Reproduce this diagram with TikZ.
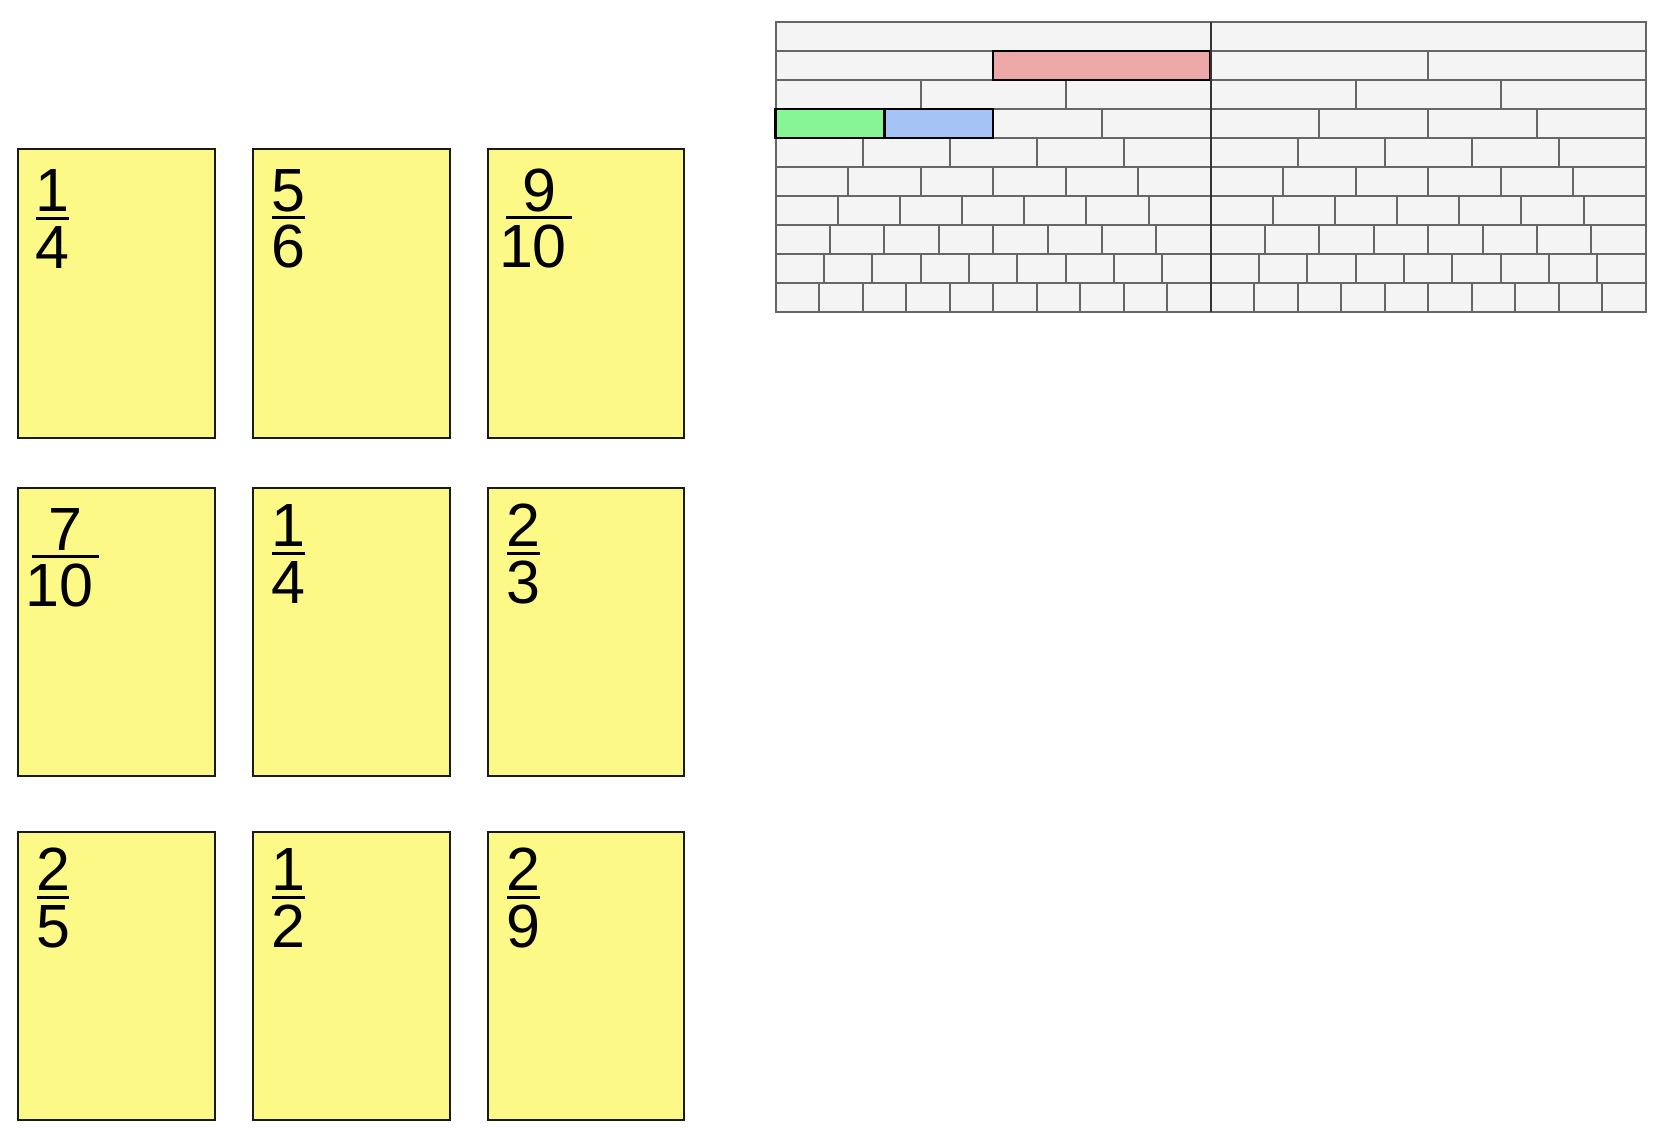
\documentclass[tikz,border=0pt]{standalone}
\usepackage{fontspec}
\setmainfont{Liberation Sans}
\usetikzlibrary{calc}
\definecolor{cardyellow}{HTML}{FDF986}
\definecolor{cardline}{HTML}{1A1A1A}
\definecolor{wallfill}{HTML}{F4F4F4}
\definecolor{wallline}{HTML}{666666}
\definecolor{midline}{HTML}{333333}
\definecolor{pred}{HTML}{EDA8A8}
\definecolor{pgreen}{HTML}{86F596}
\definecolor{pblue}{HTML}{A6C3F5}
\tikzset{
  card/.style={draw=cardline, fill=cardyellow, line width=2pt, minimum width=196.6pt, minimum height=288.3pt, inner sep=0pt, anchor=north west},
  fracdigit/.style={inner sep=0pt, font=\fontsize{61}{61}\selectfont},
  barline/.style={line width=3pt, draw=black},
  brick/.style={draw=wallline, fill=wallfill, line width=2pt},
  hibrick/.style={draw=black, line width=2.5pt},
  centreline/.style={draw=midline, line width=2pt}
}
% #1 name, #2 left, #3 top, #4 bar dx, #5 bar dy, #6 bar width, #7 num, #8 den, #9 den shift
\newcommand{\fraccard}[9]{%
  \node[card] (c#1) at (#2,#3) {};
  \coordinate (bl#1) at ($(c#1.north west)+(#4,#5)$);
  \coordinate (br#1) at ($(bl#1)+(#6,0)$);
  \draw[barline] (bl#1) -- (br#1);
  \node[fracdigit, anchor=base] (n#1) at ($(bl#1)!0.5!(br#1)+(0,-6.5)$) {#7};
  \node[fracdigit, anchor=base] (d#1) at ($(bl#1)!0.5!(br#1)+(#9,50)$) {#8};
}
\begin{document}
\begin{tikzpicture}[x=1pt,y=-1pt]
\useasboundingbox (0,0) rectangle (1664,1136);
% fraction wall
\def\wx{775.7}
\def\wy{22}
\def\ww{870}
\def\wh{28.95}
\foreach \r in {1,...,10}{
  \pgfmathtruncatemacro{\n}{2*\r}
  \foreach \k in {1,...,\n}{
    \pgfmathsetmacro{\xa}{\wx+\ww/\n*(\k-1)}
    \pgfmathsetmacro{\xb}{\wx+\ww/\n*\k}
    \pgfmathsetmacro{\ya}{\wy+(\r-1)*\wh}
    \pgfmathsetmacro{\yb}{\wy+\r*\wh}
    \draw[brick] (\xa,\ya) rectangle (\xb,\yb);
  }
}
% highlighted pieces
\draw[hibrick, fill=pred] (993.2,50.95) rectangle (1210.7,79.9);
\draw[hibrick, fill=pgreen] (775.7,108.85) rectangle (884.45,137.8);
\draw[hibrick, fill=pblue] (884.45,108.85) rectangle (993.2,137.8);
\draw[centreline] (1210.7,22) -- (1210.7,311.5);
% cards
\fraccard{1}{17.3}{148.3}{18.7}{69.7}{33.3}{1}{4}{0}
\fraccard{2}{252}{148.3}{20.4}{69.4}{33}{5}{6}{0}
\fraccard{3}{486.8}{148.3}{19.2}{69.4}{66}{9}{10}{-6}
\fraccard{4}{17.3}{486.8}{14.7}{70}{66.7}{7}{10}{-5.7}
\fraccard{5}{252}{486.8}{19.9}{66.2}{33}{1}{4}{0}
\fraccard{6}{486.8}{486.8}{20.5}{66.2}{33}{2}{3}{0}
\fraccard{7}{17.3}{831}{19.4}{66.3}{32.6}{2}{5}{0}
\fraccard{8}{252}{831}{19.9}{66.3}{33}{1}{2}{0}
\fraccard{9}{486.8}{831}{20.5}{66.3}{33}{2}{9}{0}
\end{tikzpicture}
\end{document}
